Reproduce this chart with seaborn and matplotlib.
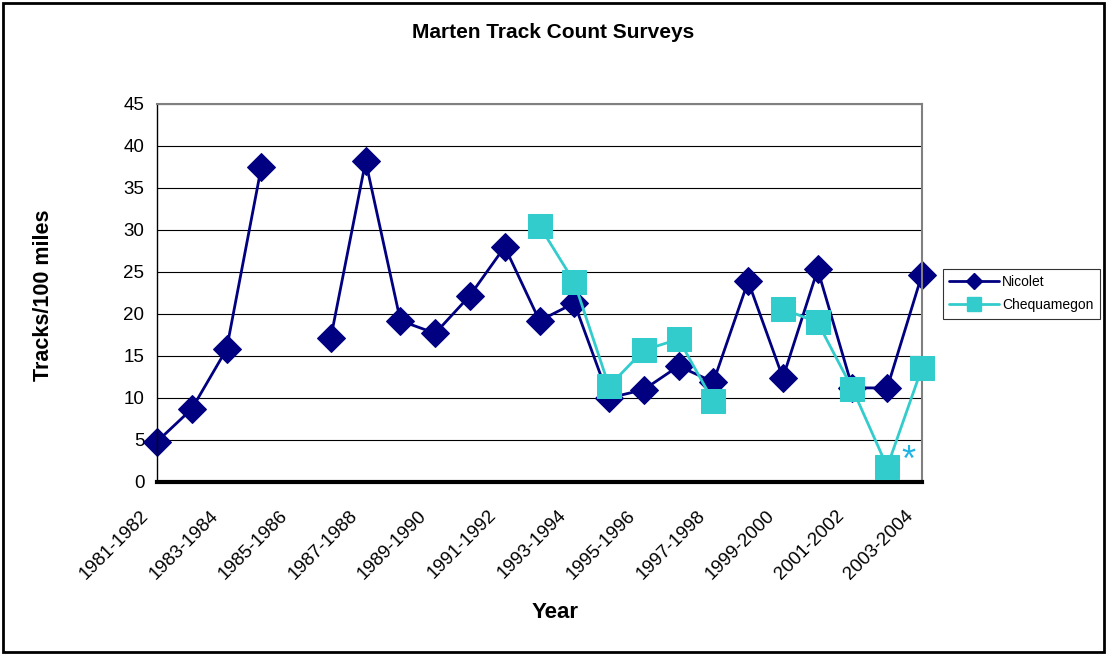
import numpy as np
import pandas as pd
import matplotlib
matplotlib.use('Agg')
import matplotlib.pyplot as plt
import matplotlib.transforms as mtransforms
from matplotlib.lines import Line2D
import seaborn as sns

# Survey seasons (one per winter)
seasons = ['%d-%d' % (y, y + 1) for y in range(1981, 2004)]

# Tracks per 100 miles (NaN = no survey)
nicolet = [4.8, 8.7, 15.8, 37.5, np.nan, 17.2, 38.2, 19.2, 17.7, 22.2, 28.0, 19.2,
           21.3, 10.0, 11.0, 13.8, 11.9, 23.9, 12.4, 25.3, 11.2, 11.2, 24.7]
chequamegon = [np.nan] * 11 + [30.5, 23.8, 11.4, 15.7, 17.0, 9.6, np.nan, 20.6,
                               19.0, 11.1, 1.8, 13.6]


def series_frame(vals):
    # split on missing years so the line breaks there
    vals = np.asarray(vals, dtype=float)
    d = pd.DataFrame({'idx': np.arange(len(vals)), 'value': vals,
                      'seg': np.cumsum(np.isnan(vals))})
    return d.dropna()


sns.set_style('white')
plt.rcParams['font.family'] = ['Liberation Sans', 'DejaVu Sans']
for k in ['text.color', 'axes.labelcolor', 'xtick.color', 'ytick.color']:
    plt.rcParams[k] = 'black'

fig = plt.figure(figsize=(11.07, 6.55), dpi=100)
ax = fig.add_axes([157 / 1107, 1 - 482 / 655, (922 - 157) / 1107, (482 - 104) / 655])

styles = {'Nicolet': dict(color='#000080', marker='D', ms=14),
          'Chequamegon': dict(color='#33CCCC', marker='s', ms=17.5)}
for z, (name, vals) in enumerate([('Nicolet', nicolet), ('Chequamegon', chequamegon)]):
    st = styles[name]
    sns.lineplot(data=series_frame(vals), x='idx', y='value', units='seg', estimator=None,
                 ax=ax, color=st['color'], lw=2, marker=st['marker'], ms=st['ms'],
                 mec=st['color'], zorder=2 + z, legend=False)

ax.text(21.6, 2.4, '*', color='#1EB4E6', fontsize=26, ha='center', va='center')

ax.set_xlim(0, len(seasons) - 1)
ax.set_ylim(0, 45)
ax.set_yticks(range(0, 50, 5))
ax.set_yticklabels([str(v) for v in range(0, 50, 5)], fontsize=13.5)
ax.set_xticks(np.arange(len(seasons)))
ax.set_xticklabels([s if i % 2 == 0 else '' for i, s in enumerate(seasons)],
                   rotation=45, ha='right', rotation_mode='anchor', fontsize=13.5)
ax.tick_params(axis='x', length=6, width=2.5, direction='out', pad=12)
ax.tick_params(axis='y', length=4, width=1, direction='out', pad=5)

ax.yaxis.grid(True, color='black', lw=0.8)
ax.set_axisbelow(True)
for s in ['top', 'right']:
    ax.spines[s].set_color('#808080')
    ax.spines[s].set_linewidth(1.5)
ax.spines['left'].set_color('black')
ax.spines['left'].set_linewidth(1)
ax.spines['bottom'].set_color('black')
ax.spines['bottom'].set_linewidth(3)
for ln in ax.lines:
    ln.set_clip_on(False)

ax.set_xlabel('Year', fontsize=16, fontweight='bold')
ax.set_ylabel('Tracks/100 miles', fontsize=15.5, fontweight='bold')
ax.xaxis.set_label_coords((555 - 157) / (922 - 157), -(602 - 482) / (482 - 104))
ax.yaxis.set_label_coords(-(157 - 54) / (922 - 157), (482 - 295) / (482 - 104))
fig.text(0.5, 1 - 33 / 655, 'Marten Track Count Surveys', ha='center', va='center',
         fontsize=15, fontweight='bold')

handles = [Line2D([], [], color=styles[n]['color'], lw=2, marker=styles[n]['marker'],
                  ms=styles[n]['ms'] * 0.6) for n in styles]
leg = fig.legend(handles, list(styles), loc='upper left',
                 bbox_to_anchor=(943 / 1107, 1 - 269 / 655),
                 fontsize=10, frameon=True, fancybox=False, edgecolor='black',
                 handlelength=3.6, borderpad=0.45, labelspacing=0.65,
                 handletextpad=0.2, borderaxespad=0)
leg.get_frame().set_linewidth(0.8)

# outer chart border
fig.patches.append(plt.Rectangle((0.003, 0.004), 0.994, 0.992, transform=fig.transFigure,
                                 fill=False, edgecolor='black', lw=2))

# nudge the rotated season labels left so they end just before their tick
fig.canvas.draw()
shift = mtransforms.ScaledTranslation(-17 / 100, 0, fig.dpi_scale_trans)
for lab in ax.get_xticklabels():
    lab.set_transform(lab.get_transform() + shift)

fig.savefig('out.png', dpi=100)
